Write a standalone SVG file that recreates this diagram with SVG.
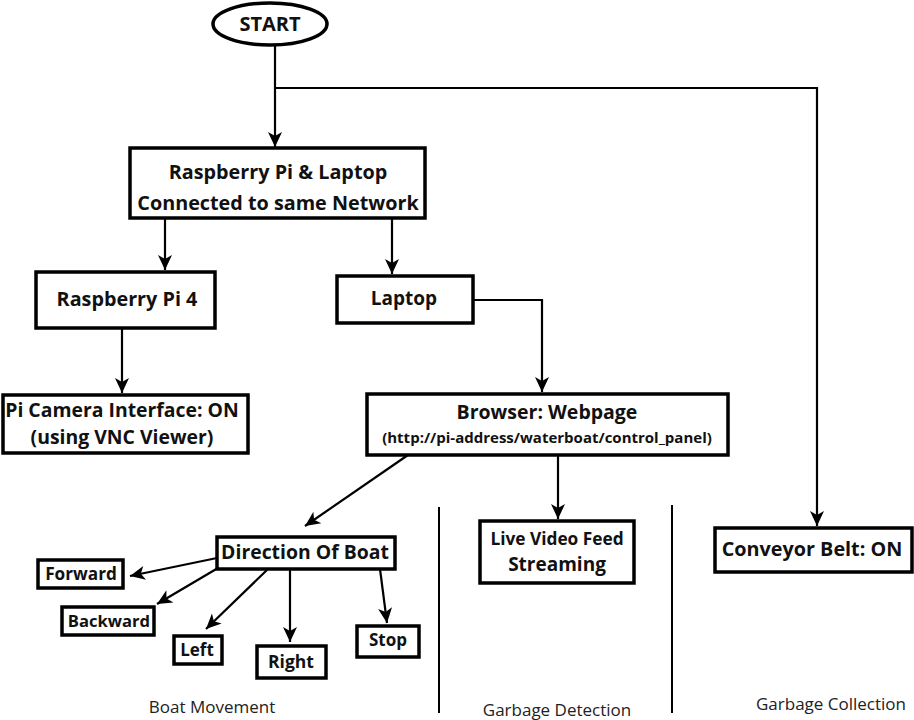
<svg xmlns="http://www.w3.org/2000/svg" width="914" height="720" viewBox="0 0 914 720">
<style>
.box{fill:#fff;stroke:#000;stroke-width:3.5}
.t{font-family:"Open Sans","Liberation Sans",sans-serif;font-weight:bold;fill:#111;text-anchor:middle}
.c{fill:none;stroke:#000;stroke-width:2.2}
.lab{font-family:"Open Sans","Liberation Sans",sans-serif;font-size:17px;fill:#222;text-anchor:middle}
</style>
<defs>
<marker id="ah" markerUnits="userSpaceOnUse" markerWidth="17" markerHeight="17" viewBox="0 0 17 17" refX="16" refY="8.5" orient="auto">
<path d="M1,1.5 L16,8.5 L1,15.5 L5,8.5 z" fill="#000"/>
</marker>
</defs>
<rect width="914" height="720" fill="#fff"/>
<g id="connectors">
<path class="c" d="M275,45 V147" marker-end="url(#ah)"/>
<path class="c" d="M275,88 H817 V526" marker-end="url(#ah)"/>
<path class="c" d="M165,218 V270" marker-end="url(#ah)"/>
<path class="c" d="M392,218 V274" marker-end="url(#ah)"/>
<path class="c" d="M122,328 V393" marker-end="url(#ah)"/>
<path class="c" d="M473,300 H542 V392" marker-end="url(#ah)"/>
<path class="c" d="M408,455 L305,526" marker-end="url(#ah)"/>
<path class="c" d="M558,455 V519" marker-end="url(#ah)"/>
<path class="c" d="M217,558 L130,576" marker-end="url(#ah)"/>
<path class="c" d="M218,568 L157,604" marker-end="url(#ah)"/>
<path class="c" d="M267,570 L206,629" marker-end="url(#ah)"/>
<path class="c" d="M290,570 V642" marker-end="url(#ah)"/>
<path class="c" d="M380,569 L387,623" marker-end="url(#ah)"/>
</g>
<g id="separators">
<path d="M439,507 V713" stroke="#000" stroke-width="2"/>
<path d="M672,505 V713" stroke="#000" stroke-width="2"/>
</g>
<g id="start">
<ellipse cx="270" cy="24" rx="57" ry="21" class="box"/>
<text x="270" y="31" class="t" font-size="20">START</text>
</g>
<g id="network">
<rect x="130" y="148" width="295" height="70" class="box"/>
<text x="278" y="179" class="t" font-size="19.8">Raspberry Pi &amp; Laptop</text>
<text x="278" y="210" class="t" font-size="19.8">Connected to same Network</text>
</g>
<g id="pi4">
<rect x="36" y="272" width="179" height="56" class="box"/>
<text x="127" y="306" class="t" font-size="19.8">Raspberry Pi 4</text>
</g>
<g id="laptop">
<rect x="337" y="276" width="136" height="47" class="box"/>
<text x="404" y="305" class="t" font-size="19">Laptop</text>
</g>
<g id="camera">
<rect x="3" y="395" width="245" height="58" class="box"/>
<text x="122" y="417" class="t" font-size="19.4">Pi Camera Interface: ON</text>
<text x="122" y="444" class="t" font-size="19.4">(using VNC Viewer)</text>
</g>
<g id="browser">
<rect x="367" y="394" width="361" height="61" class="box"/>
<text x="547" y="419" class="t" font-size="19.5">Browser: Webpage</text>
<text x="547" y="443" class="t" font-size="15">(http://pi-address/waterboat/control_panel)</text>
</g>
<g id="live">
<rect x="480" y="521" width="154" height="62" class="box"/>
<text x="557" y="545" class="t" font-size="17.3">Live Video Feed</text>
<text x="557" y="571" class="t" font-size="19">Streaming</text>
</g>
<g id="conveyor">
<rect x="715" y="528" width="197" height="44" class="box"/>
<text x="812" y="556" class="t" font-size="19.8">Conveyor Belt: ON</text>
</g>
<g id="direction">
<rect x="217" y="537" width="178" height="32" class="box"/>
<text x="305" y="559" class="t" font-size="19.4">Direction Of Boat</text>
</g>
<g id="forward">
<rect x="38" y="560" width="85" height="28" class="box" stroke-width="2"/>
<text x="81" y="580" class="t" font-size="17.2">Forward</text>
</g>
<g id="backward">
<rect x="62" y="607" width="92" height="28" class="box" stroke-width="2"/>
<text x="109" y="627" class="t" font-size="16.6">Backward</text>
</g>
<g id="left">
<rect x="174" y="636" width="48" height="28" class="box" stroke-width="2"/>
<text x="197" y="656" class="t" font-size="17">Left</text>
</g>
<g id="right">
<rect x="257" y="646" width="69" height="32" class="box" stroke-width="2"/>
<text x="291" y="668" class="t" font-size="17.5">Right</text>
</g>
<g id="stop">
<rect x="357" y="626" width="62" height="31" class="box" stroke-width="2"/>
<text x="388" y="646" class="t" font-size="17">Stop</text>
</g>
<g id="labels">
<text x="212" y="713" class="lab">Boat Movement</text>
<text x="557" y="716" class="lab">Garbage Detection</text>
<text x="831" y="710" class="lab">Garbage Collection</text>
</g>
</svg>
